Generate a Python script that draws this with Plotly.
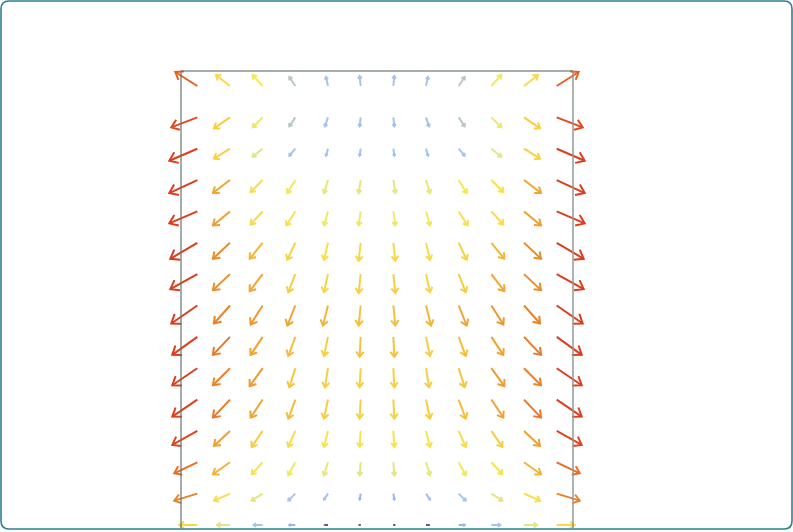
import numpy as np
import plotly.graph_objects as go

# ---------------- data ----------------
# grid: 12 columns (x) and 15 rows (y); rows listed from top (y=14) to bottom (y=0)
X_LEVELS = list(range(12))
Y_LEVELS = list(range(14, -1, -1))

# horizontal component (positive = right)
U = [
    [-22, -14, -10, -6, -2, -1, 1, 2, 6, 10, 14, 22],
    [-26, -16, -10, -6, -3, -1, 1, 3, 6, 10, 16, 26],
    [-28, -16, -10, -6, -2, -1, 1, 2, 6, 10, 16, 28],
    [-28, -17, -12, -8, -4, -2, 2, 4, 8, 12, 17, 28],
    [-28, -17, -12, -9, -4, -2, 2, 4, 9, 12, 17, 28],
    [-27, -17, -13, -8, -4, -2, 2, 4, 8, 13, 17, 27],
    [-27, -17, -13, -7, -4, -2, 2, 4, 7, 13, 17, 27],
    [-26, -16, -12, -8, -5, -2, 2, 5, 8, 12, 16, 26],
    [-25, -17, -12, -7, -4, -1, 1, 4, 7, 12, 17, 25],
    [-25, -17, -13, -6, -3, -1, 1, 3, 6, 13, 17, 25],
    [-25, -17, -12, -7, -4, -1, 1, 4, 7, 12, 17, 25],
    [-25, -16, -11, -7, -4, -1, 1, 4, 7, 11, 16, 25],
    [-23, -17, -11, -7, -4, -1, 1, 4, 7, 11, 17, 23],
    [-23, -16, -11, -7, -4, -1, 1, 4, 7, 11, 16, 23],
    [-18, -13, -9, -6, -3, -1, 1, 3, 6, 9, 13, 18],
]
# vertical component (positive = up)
V = [
    [14, 11, 11, 9, 9, 10, 10, 9, 9, 11, 11, 14],
    [-10, -11, -10, -9, -9, -9, -9, -9, -9, -10, -11, -10],
    [-12, -10, -8, -7, -7, -7, -7, -7, -7, -8, -10, -12],
    [-13, -13, -12, -13, -13, -13, -13, -13, -13, -12, -13, -13],
    [-12, -14, -13, -14, -14, -14, -14, -14, -14, -13, -14, -12],
    [-16, -16, -16, -17, -17, -18, -18, -17, -17, -16, -16, -16],
    [-15, -16, -17, -18, -18, -19, -19, -18, -18, -17, -16, -15],
    [-18, -18, -19, -20, -20, -20, -20, -20, -20, -19, -18, -18],
    [-18, -18, -18, -19, -19, -20, -20, -19, -19, -18, -18, -18],
    [-17, -17, -18, -19, -19, -19, -19, -19, -19, -18, -17, -17],
    [-17, -18, -18, -19, -19, -19, -19, -19, -19, -18, -18, -17],
    [-14, -15, -16, -16, -16, -16, -16, -16, -16, -16, -15, -14],
    [-11, -12, -12, -13, -13, -13, -13, -13, -13, -12, -12, -11],
    [-7, -7, -7, -7, -6, -6, -6, -6, -7, -7, -7, -7],
    [0, 0, 0, 0, 0, 0, 0, 0, 0, 0, 0, 0],
]

# ---------------- styling ----------------
W, H = 793, 532
FRAME_L, FRAME_R, FRAME_T, FRAME_B = 181, 573, 71, 528   # px
COL0_PX, COLN_PX = 197.3, 556.7
ROW_TOP_PX, ROW_BOT_PX = 86, 525

px_per_x = (COLN_PX - COL0_PX) / (X_LEVELS[-1] - X_LEVELS[0])
px_per_y = (ROW_BOT_PX - ROW_TOP_PX) / (Y_LEVELS[0] - Y_LEVELS[-1])
x_range = [X_LEVELS[0] - COL0_PX / px_per_x, X_LEVELS[-1] + (W - COLN_PX) / px_per_x]
y_range = [Y_LEVELS[-1] - (H - ROW_BOT_PX) / px_per_y, Y_LEVELS[0] + ROW_TOP_PX / px_per_y]


def px2x(p):
    return x_range[0] + p / px_per_x


def px2y(p):
    return y_range[1] - p / px_per_y


CMAX = 32.0
COLORSCALE = [
    [0.0, "#2b2f55"], [2.5 / CMAX, "#3f4f8a"], [5 / CMAX, "#7e9ede"], [6.5 / CMAX, "#a2c2f0"],
    [10 / CMAX, "#a8c4ea"], [11 / CMAX, "#bccbb2"], [12.5 / CMAX, "#dfe48e"], [15 / CMAX, "#f4ea56"],
    [17.5 / CMAX, "#f8dc48"], [19.5 / CMAX, "#f7cc40"], [20.5 / CMAX, "#f4b836"],
    [21.5 / CMAX, "#f2a42e"], [23 / CMAX, "#ee9028"], [25 / CMAX, "#ea7424"],
    [27 / CMAX, "#e4521f"], [29 / CMAX, "#df401d"], [1.0, "#dc3a1d"],
]
HEAD_FRAC = 0.32
HEAD_ANGLE = np.radians(36)


def hex2rgb(h):
    return np.array([int(h[i:i + 2], 16) for i in (1, 3, 5)], dtype=float)


def color_for(m):
    t = min(max(m / CMAX, 0.0), 1.0)
    for (a, ca), (b, cb) in zip(COLORSCALE[:-1], COLORSCALE[1:]):
        if a <= t <= b:
            f = 0 if b == a else (t - a) / (b - a)
            c = hex2rgb(ca) * (1 - f) + hex2rgb(cb) * f
            return "rgb(%d,%d,%d)" % tuple(np.round(c))
    return COLORSCALE[-1][1]


fig = go.Figure()

for r, yv in enumerate(Y_LEVELS):
    for c, xv in enumerate(X_LEVELS):
        u, v = U[r][c], V[r][c]
        mag = float(np.hypot(u, v))
        if mag == 0:
            continue
        # tip in data coordinates (vectors are in screen pixels)
        tx = xv + u / px_per_x
        ty = yv + v / px_per_y
        ang = np.arctan2(v, u)
        hl = HEAD_FRAC * mag
        b1 = (tx - hl * np.cos(ang - HEAD_ANGLE) / px_per_x, ty - hl * np.sin(ang - HEAD_ANGLE) / px_per_y)
        b2 = (tx - hl * np.cos(ang + HEAD_ANGLE) / px_per_x, ty - hl * np.sin(ang + HEAD_ANGLE) / px_per_y)
        fig.add_trace(go.Scatter(
            x=[xv, tx, None, b1[0], tx, b2[0]],
            y=[yv, ty, None, b1[1], ty, b2[1]],
            mode="lines",
            line=dict(color=color_for(mag), width=2),
            hoverinfo="skip",
            showlegend=False,
        ))

shapes = [
    # plot frame (top, left, right)
    dict(type="line", xref="x", yref="y", x0=px2x(FRAME_L), x1=px2x(FRAME_R), y0=px2y(FRAME_T), y1=px2y(FRAME_T),
         line=dict(color="#4d5a5a", width=1.2)),
    dict(type="line", xref="x", yref="y", x0=px2x(FRAME_L), x1=px2x(FRAME_L), y0=px2y(FRAME_T), y1=px2y(FRAME_B),
         line=dict(color="#677474", width=1.2)),
    dict(type="line", xref="x", yref="y", x0=px2x(FRAME_R), x1=px2x(FRAME_R), y0=px2y(FRAME_T), y1=px2y(FRAME_B),
         line=dict(color="#8f9a9a", width=1.5)),
]

# outer rounded teal border (paper coordinates == figure pixels because margins are 0)
bx0, bx1, by0, by1, rad = 1.0, 792.0, 1.0, 529.0, 8.0
fx = lambda p: p / W
fy = lambda p: 1 - p / H
path = (
    f"M {fx(bx0 + rad)},{fy(by0)} L {fx(bx1 - rad)},{fy(by0)} Q {fx(bx1)},{fy(by0)} {fx(bx1)},{fy(by0 + rad)} "
    f"L {fx(bx1)},{fy(by1 - rad)} Q {fx(bx1)},{fy(by1)} {fx(bx1 - rad)},{fy(by1)} "
    f"L {fx(bx0 + rad)},{fy(by1)} Q {fx(bx0)},{fy(by1)} {fx(bx0)},{fy(by1 - rad)} "
    f"L {fx(bx0)},{fy(by0 + rad)} Q {fx(bx0)},{fy(by0)} {fx(bx0 + rad)},{fy(by0)} Z"
)
shapes.append(dict(type="path", xref="paper", yref="paper", path=path, layer="above",
                   line=dict(color="#2f7f96", width=1.6)))

fig.update_layout(
    width=W, height=H, autosize=False,
    margin=dict(l=0, r=0, t=0, b=0, pad=0),
    paper_bgcolor="white", plot_bgcolor="white",
    xaxis=dict(range=x_range, visible=False, fixedrange=True),
    yaxis=dict(range=y_range, visible=False, fixedrange=True),
    shapes=shapes,
    showlegend=False,
)

fig.write_html(
    "out.html",
    config={"displayModeBar": False, "staticPlot": True},
    post_script="document.body.style.margin='0';document.body.style.overflow='hidden';",
)
